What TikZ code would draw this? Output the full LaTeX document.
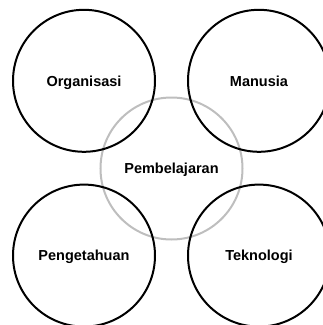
\documentclass[tikz,border=0pt]{standalone}
\usepackage{fontspec}
\setmainfont{Liberation Sans}
\begin{document}
\begin{tikzpicture}[x=1pt,y=-1pt,
  txt/.style={inner sep=0pt,text height=10.4pt,text depth=0pt,font=\fontsize{14.5}{16}\selectfont\bfseries},
  outer/.style={circle,draw=black,line width=2pt,minimum size=142pt,txt},
  inner/.style={circle,draw={rgb,255:red,190;green,190;blue,190},line width=2pt,minimum size=142pt,txt}]
\useasboundingbox (0,0) rectangle (323,325);
\node[inner] (pb) at (171.5,168.5) {Pembelajaran};
\node[outer] (org) at (84,80.8) {Organisasi};
\node[outer] (man) at (259,80.8) {Manusia};
\node[outer] (pen) at (84,255.6) {Pengetahuan};
\node[outer] (tek) at (259,255.6) {Teknologi};
\end{tikzpicture}
\end{document}
